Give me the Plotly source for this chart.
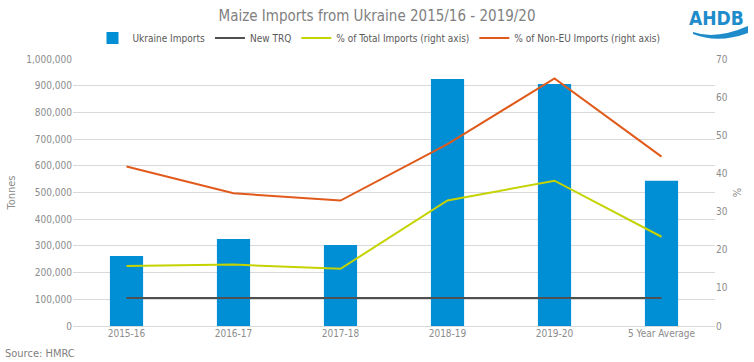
import plotly.graph_objects as go

categories = ["2015-16", "2016-17", "2017-18", "2018-19", "2019-20", "5 Year Average"]
ukraine_imports = [262000, 326000, 303000, 925000, 906000, 544000]
new_trq = [105000, 105000, 105000, 105000, 105000, 105000]
pct_total = [15.7, 16.1, 15.0, 32.9, 38.1, 23.4]
pct_non_eu = [41.8, 34.8, 32.9, 47.7, 64.9, 44.4]

left_ticks = list(range(0, 1000001, 100000))
left_tick_text = [f"{v:,}" for v in left_ticks]
right_ticks = list(range(0, 71, 10))

FONT = "Liberation Sans Narrow, Arial Narrow, DejaVu Sans Condensed, Liberation Sans, Arial, sans-serif"
GREY = "#8c8c8c"
W, H = 754, 362
L, R, T, B = 73, 39, 59, 36
PW, PH = W - L - R, H - T - B


def px(x):
    return (x - L) / PW


def py(y):
    return 1 - (y - T) / PH


fig = go.Figure()
fig.add_trace(go.Bar(x=categories, y=ukraine_imports, name="Ukraine Imports",
                     marker=dict(color="#008FD5", line=dict(width=0)), width=0.31))
fig.add_trace(go.Scatter(x=categories, y=new_trq, name="New TRQ", mode="lines",
                         line=dict(color="#505050", width=2)))
fig.add_trace(go.Scatter(x=categories, y=pct_total, name="% of Total Imports (right axis)",
                         mode="lines", line=dict(color="#C5D300", width=2), yaxis="y2"))
fig.add_trace(go.Scatter(x=categories, y=pct_non_eu, name="% of Non-EU Imports (right axis)",
                         mode="lines", line=dict(color="#E05A1B", width=2), yaxis="y2"))

fig.update_layout(
    width=W, height=H,
    margin=dict(l=L, r=R, t=T, b=B, autoexpand=False),
    paper_bgcolor="white", plot_bgcolor="white",
    font=dict(family=FONT, size=10, color=GREY),
    title=dict(text="Maize Imports from Ukraine 2015/16 - 2019/20", x=0.5, xanchor="center",
               y=1 - 16 / H, yanchor="middle", yref="container",
               font=dict(family=FONT, size=15, color="#7f7f7f")),
    showlegend=True,
    legend=dict(orientation="h", x=379 / W, xanchor="center", xref="container",
                y=1 - 38 / H, yanchor="middle", yref="container",
                font=dict(family=FONT, size=10, color="#595959"),
                itemwidth=30, tracegroupgap=0, bgcolor="rgba(0,0,0,0)"),
    xaxis=dict(showgrid=False, showline=False, ticks="", tickfont=dict(size=10, color=GREY),
               fixedrange=True, automargin=False),
    yaxis=dict(range=[0, 1000000], tickvals=left_ticks, ticktext=left_tick_text,
               showgrid=True, gridcolor="#d9d9d9", gridwidth=1, zeroline=True,
               zerolinecolor="#d9d9d9", zerolinewidth=1, automargin=False,
               title=dict(text="Tonnes", font=dict(size=11, color=GREY), standoff=8),
               tickfont=dict(size=10, color=GREY), ticklen=0),
    yaxis2=dict(range=[0, 70], tickvals=right_ticks, overlaying="y", side="right",
                showgrid=False, zeroline=False, automargin=False,
                title=dict(text="%", font=dict(size=11, color=GREY), standoff=6),
                tickfont=dict(size=10, color=GREY)),
)

fig.add_annotation(text="Source: HMRC", xref="paper", yref="paper", x=px(3), y=py(353),
                   xanchor="left", yanchor="middle", showarrow=False,
                   font=dict(family=FONT, size=11, color="#7f7f7f"))

# AHDB logo (text + wave)
fig.add_annotation(text="<b>AHDB</b>", xref="paper", yref="paper", x=px(746),
                   y=py(18.5), xanchor="right", yanchor="middle", showarrow=False,
                   font=dict(family="Liberation Sans Narrow, DejaVu Sans Condensed, sans-serif",
                             size=19, color="#1E8BCB"))
wave = (f"M {px(693)},{py(32)} Q {px(716)},{py(40)} {px(748)},{py(26)} "
        f"L {px(748)},{py(33)} Q {px(718)},{py(44)} {px(693)},{py(34)} Z")
fig.add_shape(type="path", xref="paper", yref="paper", path=wave,
              fillcolor="#1E8BCB", line=dict(width=0))

fig.write_html("out.html", config={"displayModeBar": False},
               post_script="document.body.style.margin='0';document.body.style.padding='0';")
